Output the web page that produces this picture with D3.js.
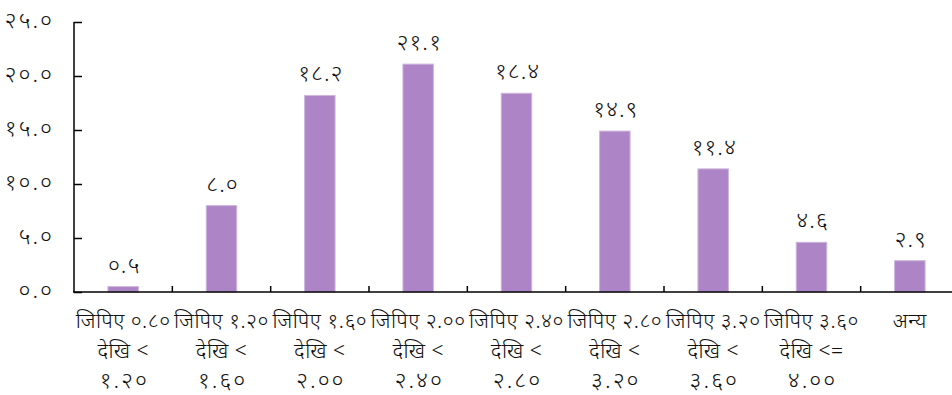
<!DOCTYPE html>
<html>
<head>
<meta charset="utf-8">
<script src="https://cdn.jsdelivr.net/npm/d3@7"></script>
<style>
  html, body { margin: 0; padding: 0; background: #fff; }
  svg text { font-family: "Noto Sans", "DejaVu Sans", sans-serif; fill: #111; font-weight: 300; }
</style>
</head>
<body>
<svg id="chart" width="952" height="395"></svg>
<script>
// Category labels, one array of lines per bar
const categories = [
  ["जिपिए ०.८०", "देखि <", "१.२०"],
  ["जिपिए १.२०", "देखि <", "१.६०"],
  ["जिपिए १.६०", "देखि <", "२.००"],
  ["जिपिए २.००", "देखि <", "२.४०"],
  ["जिपिए २.४०", "देखि <", "२.८०"],
  ["जिपिए २.८०", "देखि <", "३.२०"],
  ["जिपिए ३.२०", "देखि <", "३.६०"],
  ["जिपिए ३.६०", "देखि <=", "४.००"],
  ["अन्य"]
];
const values = [0.5, 8.0, 18.2, 21.1, 18.4, 14.9, 11.4, 4.6, 2.9];
const yTicks = [0, 5, 10, 15, 20, 25];

const devDigits = "०१२३४५६७८९";
const toDev = s => String(s).replace(/[0-9]/g, d => devDigits[+d]);
const fmt = v => toDev(d3.format(".1f")(v));

const svg = d3.select("#chart");
const keys = categories.map((c, i) => i);

const x = d3.scaleBand().domain(keys).range([74, 959]).padding(0);
const y = d3.scaleLinear().domain([0, 25]).range([292, 22]);

const barW = x.bandwidth() * 0.31;

// Bars
svg.append("g").selectAll("rect")
  .data(values)
  .join("rect")
  .attr("x", (d, i) => x(i) + (x.bandwidth() - barW) / 2)
  .attr("y", d => y(d))
  .attr("width", barW)
  .attr("height", d => y(0) - y(d))
  .attr("fill", "#ad85c6")
  .attr("stroke", "#cdb5dd")
  .attr("stroke-width", 1);

// Value labels
svg.append("g").selectAll("text")
  .data(values)
  .join("text")
  .attr("x", (d, i) => x(i) + x.bandwidth() / 2 + 1)
  .attr("y", d => y(d) - 14)
  .attr("text-anchor", "middle")
  .attr("font-size", 23)
  .attr("letter-spacing", 1)
  .text(d => fmt(d));

// Y axis
const yAxis = svg.append("g")
  .attr("transform", "translate(74,0)")
  .call(d3.axisRight(y).tickValues(yTicks).tickSize(8).tickFormat(""));
yAxis.select(".domain").attr("d", `M0,${y(25)}H0V${y(0)}`).attr("stroke", "#000").attr("stroke-width", 1.5);
yAxis.selectAll(".tick line").attr("stroke", "#000").attr("stroke-width", 1.5);

svg.append("g").selectAll("text")
  .data(yTicks)
  .join("text")
  .attr("x", 54)
  .attr("y", d => y(d) + 6)
  .attr("text-anchor", "end")
  .attr("font-size", 23)
  .attr("letter-spacing", 2)
  .text(d => fmt(d));

// X axis with boundary ticks between categories
const xAxis = svg.append("g").attr("transform", `translate(0,${y(0)})`);
xAxis.append("line")
  .attr("x1", 73).attr("x2", 952)
  .attr("stroke", "#000").attr("stroke-width", 1.5);
xAxis.selectAll("line.tk")
  .data(keys.slice(1))
  .join("line")
  .attr("class", "tk")
  .attr("x1", d => x(d)).attr("x2", d => x(d))
  .attr("y1", 0).attr("y2", -6)
  .attr("stroke", "#000").attr("stroke-width", 1.5);

// Category labels
const lab = svg.append("g").selectAll("text")
  .data(categories)
  .join("text")
  .attr("text-anchor", "middle")
  .attr("font-size", 21)
  .attr("transform", (d, i) => `translate(${x(i) + x.bandwidth() / 2},0)`);
lab.selectAll("tspan")
  .data(d => d)
  .join("tspan")
  .attr("x", (d, j) => j === 2 ? 1 : 0)
  .attr("y", (d, j) => 328 + j * 30)
  .attr("font-size", (d, j) => j === 2 ? 23 : 21)
  .attr("letter-spacing", (d, j) => j === 2 ? 2 : 0.5)
  .text(d => d);
</script>
</body>
</html>
